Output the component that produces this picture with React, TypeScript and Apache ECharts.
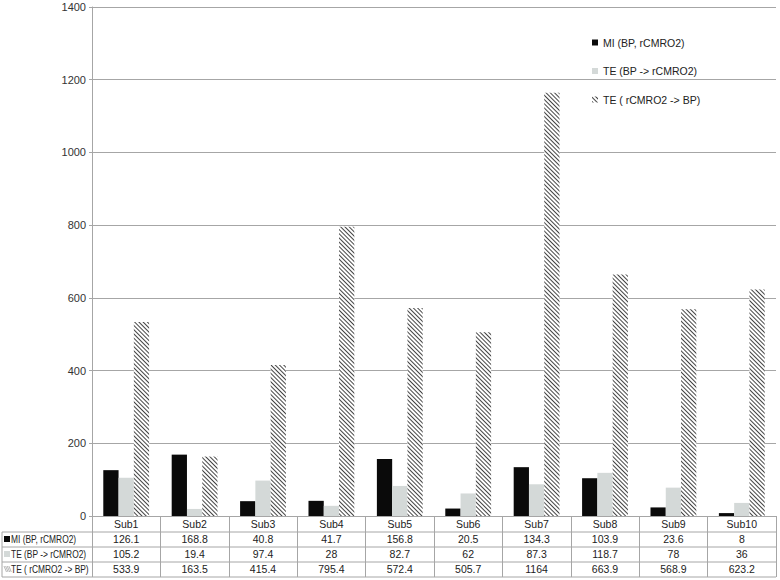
import React, { useEffect, useRef } from "react";
import * as echarts from "echarts";

const categories = ["Sub1", "Sub2", "Sub3", "Sub4", "Sub5", "Sub6", "Sub7", "Sub8", "Sub9", "Sub10"];
const seriesNames = ["MI (BP, rCMRO2)", "TE (BP -> rCMRO2)", "TE ( rCMRO2 -> BP)"];
const miValues = [126.1, 168.8, 40.8, 41.7, 156.8, 20.5, 134.3, 103.9, 23.6, 8];
const teBpToR = [105.2, 19.4, 97.4, 28, 82.7, 62, 87.3, 118.7, 78, 36];
const teRToBp = [533.9, 163.5, 415.4, 795.4, 572.4, 505.7, 1164, 663.9, 568.9, 623.2];
const yTicks = [0, 200, 400, 600, 800, 1000, 1200, 1400];

const FONT = "'Liberation Sans', Arial, sans-serif";
const seriesColors = ["#0a0a0a", "#d4d9d8", "#ffffff"];

export default function App() {
  const ref = useRef<HTMLDivElement>(null);
  useEffect(() => {
    if (!ref.current) return;
    const chart = echarts.init(ref.current, undefined, { renderer: "svg" });
    const hatch = {
      symbol: "rect",
      symbolSize: 1,
      color: "#444444",
      backgroundColor: "#ffffff",
      dashArrayX: [1, 0],
      dashArrayY: [0.9, 1.4],
      rotation: Math.PI / 4,
    };
    const gridLeft = 92;
    const gridRight = 4;
    const lineColor = "#a6a6a6";
    const tableRows = [532, 547, 562, 577];
    const graphics: any[] = [];
    tableRows.forEach((y) => {
      graphics.push({
        type: "line",
        shape: { x1: 2, y1: y, x2: 780 - gridRight, y2: y },
        style: { stroke: lineColor, lineWidth: 1 },
        silent: true,
      });
    });
    graphics.push({
      type: "line",
      shape: { x1: 2, y1: 532, x2: 2, y2: 577 },
      style: { stroke: lineColor, lineWidth: 1 },
      silent: true,
    });
    // table row headers (legend keys)
    seriesNames.forEach((name, i) => {
      const cy = 539.5 + i * 15;
      if (i < 2) {
        graphics.push({
          type: "rect",
          shape: { x: 4, y: cy - 3.5, width: 6, height: 6 },
          style: { fill: seriesColors[i] },
          silent: true,
        });
      } else {
        for (let k = 0; k < 4; k++) {
          graphics.push({
            type: "line",
            shape: { x1: 4 + k * 1.6, y1: cy - 3.5, x2: 6.5 + k * 1.6, y2: cy + 2.5 },
            style: { stroke: "#888", lineWidth: 0.6 },
            silent: true,
          });
        }
      }
      graphics.push({
        type: "text",
        x: 11,
        y: cy,
        scaleX: 0.8,
        style: {
          text: name,
          fontSize: 10.5,
          fontFamily: FONT,
          fill: "#222",
          verticalAlign: "middle",
          align: "left",
        },
        silent: true,
      });
    });

    const barBase = { type: "bar", barGap: "0%", barCategoryGap: "33%" };

    const option: any = {
      animation: false,
      backgroundColor: "#ffffff",
      textStyle: { fontFamily: FONT },
      grid: { left: gridLeft, right: gridRight, top: 7, bottom: 64, containLabel: false },
      legend: {
        orient: "vertical",
        left: 587,
        top: 32,
        itemWidth: 6,
        itemHeight: 6,
        itemGap: 17.5,
        itemTextGap: 6,
        icon: "rect",
        textStyle: { fontSize: 10.5, color: "#222", fontFamily: FONT },
        data: seriesNames,
      },
      xAxis: {
        type: "category",
        data: categories,
        axisLine: { show: true, lineStyle: { color: lineColor } },
        axisTick: { show: true, length: 61, interval: 0, lineStyle: { color: lineColor } },
        axisLabel: {
          interval: 0,
          margin: 0,
          fontSize: 10.5,
          color: "#222",
          lineHeight: 15,
          fontFamily: FONT,
          formatter: (value: string, idx: number) =>
            [value, miValues[idx], teBpToR[idx], teRToBp[idx]].join("\n"),
        },
      },
      yAxis: {
        type: "value",
        min: yTicks[0],
        max: yTicks[yTicks.length - 1],
        interval: yTicks[1] - yTicks[0],
        axisLine: { show: true, lineStyle: { color: lineColor } },
        axisTick: { show: true, length: 3, lineStyle: { color: lineColor } },
        axisLabel: {
          fontSize: 11,
          color: "#333",
          margin: 6,
          fontFamily: FONT,
          formatter: (v: number) => String(v),
        },
        splitLine: { show: true, lineStyle: { color: lineColor, width: 1 } },
      },
      series: [
        { ...barBase, name: seriesNames[0], data: miValues, itemStyle: { color: seriesColors[0] } },
        { ...barBase, name: seriesNames[1], data: teBpToR, itemStyle: { color: seriesColors[1] } },
        {
          ...barBase,
          name: seriesNames[2],
          data: teRToBp,
          itemStyle: { color: seriesColors[2], decal: hatch },
        },
      ],
      graphic: graphics,
    };
    chart.setOption(option);
    return () => chart.dispose();
  }, []);
  return <div ref={ref} style={{ width: 780, height: 580, position: "absolute", left: 0, top: 0 }} />;
}
